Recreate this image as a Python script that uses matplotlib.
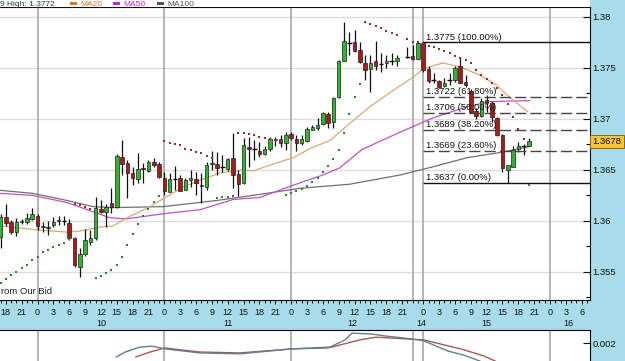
import matplotlib
matplotlib.use("Agg")
import matplotlib.pyplot as plt
import numpy as np
from matplotlib.patches import Rectangle
from matplotlib.ticker import FixedLocator, MultipleLocator

plt.rcParams['font.family'] = ['Liberation Sans', 'DejaVu Sans']

# hourly candles, trading-time axis: hour 0 = 10th 00:00, hour 73 = 15th 00:00
first_hour = -7
opens = [1.3584, 1.3604, 1.3599, 1.3589, 1.3599, 1.3599, 1.3602, 1.3605, 1.3594, 1.3594,
         1.3596, 1.3600, 1.3600, 1.3598, 1.3583, 1.3555, 1.3568, 1.3579, 1.3583, 1.3612,
         1.3609, 1.3618, 1.3614, 1.3663, 1.3657, 1.3647, 1.3641, 1.3652, 1.3649, 1.3658,
         1.3656, 1.3642, 1.3628, 1.3641, 1.3642, 1.3630, 1.3640, 1.3641, 1.3635, 1.3633,
         1.3656, 1.3656, 1.3653, 1.3651, 1.3662, 1.3646, 1.3637, 1.3672, 1.3671, 1.3669,
         1.3666, 1.3671, 1.3679, 1.3680, 1.3676, 1.3685, 1.3680, 1.3676, 1.3678, 1.3689,
         1.3691, 1.3695, 1.3705, 1.3697, 1.3722, 1.3757, 1.3774, 1.3775, 1.3768, 1.3755,
         1.3749, 1.3757, 1.3754, 1.3755, 1.3757, 1.3757, np.nan, 1.3761, 1.3762, 1.3759,
         1.3774, 1.3749, 1.3738, 1.3737, 1.3732, 1.3738, 1.3738, 1.3752, 1.3736, 1.3727,
         1.3708, 1.3703, 1.3719, 1.3716, 1.3701, 1.3684, 1.3650, 1.3653, 1.3671, 1.3673,
         1.3673]
highs = [1.3607, 1.3617, 1.3601, 1.3603, 1.3602, 1.3608, 1.3613, 1.3607, 1.3599, 1.3600,
         1.3604, 1.3605, 1.3605, 1.3602, 1.3584, 1.3573, 1.3592, 1.3591, 1.3623, 1.3620,
         1.3617, 1.3632, 1.3666, 1.3679, 1.3660, 1.3653, 1.3667, 1.3657, 1.3660, 1.3662,
         1.3658, 1.3648, 1.3647, 1.3654, 1.3645, 1.3642, 1.3650, 1.3648, 1.3647, 1.3658,
         1.3669, 1.3668, 1.3665, 1.3662, 1.3686, 1.3650, 1.3681, 1.3682, 1.3679, 1.3677,
         1.3673, 1.3682, 1.3682, 1.3684, 1.3687, 1.3687, 1.3684, 1.3684, 1.3692, 1.3694,
         1.3701, 1.3707, 1.3707, 1.3722, 1.3758, 1.3795, 1.3785, 1.3787, 1.3775, 1.3763,
         1.3763, 1.3776, 1.3765, 1.3763, 1.3765, 1.3763, np.nan, 1.3771, 1.3773, 1.3775,
         1.3776, 1.3752, 1.3745, 1.3738, 1.3740, 1.3745, 1.3752, 1.3761, 1.3743, 1.3729,
         1.3711, 1.3721, 1.3723, 1.3718, 1.3702, 1.3685, 1.3655, 1.3673, 1.3677, 1.3675,
         1.3681]
lows = [1.3573, 1.3595, 1.3587, 1.3585, 1.3597, 1.3597, 1.3601, 1.3591, 1.3589, 1.3586,
        1.3594, 1.3596, 1.3596, 1.3581, 1.3555, 1.3545, 1.3566, 1.3576, 1.3581, 1.3608,
        1.3594, 1.3608, 1.3613, 1.3645, 1.3622, 1.3635, 1.3637, 1.3637, 1.3648, 1.3653,
        1.3642, 1.3625, 1.3628, 1.3630, 1.3629, 1.3630, 1.3633, 1.3625, 1.3618, 1.3630,
        1.3650, 1.3645, 1.3648, 1.3649, 1.3632, 1.3624, 1.3636, 1.3653, 1.3660, 1.3663,
        1.3665, 1.3669, 1.3673, 1.3672, 1.3670, 1.3679, 1.3669, 1.3674, 1.3677, 1.3689,
        1.3689, 1.3694, 1.3691, 1.3691, 1.3721, 1.3757, 1.3763, 1.3766, 1.3755, 1.3738,
        1.3726, 1.3748, 1.3746, 1.3750, 1.3753, 1.3752, np.nan, 1.3760, 1.3758, 1.3759,
        1.3746, 1.3735, 1.3735, 1.3730, 1.3731, 1.3733, 1.3736, 1.3735, 1.3731, 1.3706,
        1.3700, 1.3702, 1.3707, 1.3697, 1.3683, 1.3648, 1.3637, 1.3653, 1.3668, 1.3665,
        1.3673]
closes = [1.3604, 1.3598, 1.3589, 1.3599, 1.3600, 1.3603, 1.3607, 1.3595, 1.3595, 1.3593,
          1.3599, 1.3601, 1.3600, 1.3583, 1.3557, 1.3568, 1.3581, 1.3583, 1.3613, 1.3609,
          1.3614, 1.3614, 1.3664, 1.3656, 1.3647, 1.3642, 1.3651, 1.3651, 1.3658, 1.3655,
          1.3643, 1.3629, 1.3641, 1.3641, 1.3629, 1.3640, 1.3642, 1.3637, 1.3634, 1.3655,
          1.3657, 1.3652, 1.3653, 1.3661, 1.3645, 1.3636, 1.3674, 1.3671, 1.3671, 1.3666,
          1.3671, 1.3680, 1.3680, 1.3676, 1.3684, 1.3681, 1.3676, 1.3680, 1.3690, 1.3692,
          1.3694, 1.3706, 1.3696, 1.3721, 1.3757, 1.3776, 1.3774, 1.3767, 1.3756, 1.3748,
          1.3755, 1.3752, 1.3754, 1.3757, 1.3757, 1.3760, np.nan, 1.3761, 1.3759, 1.3774,
          1.3748, 1.3737, 1.3738, 1.3731, 1.3735, 1.3738, 1.3750, 1.3735, 1.3733, 1.3707,
          1.3703, 1.3718, 1.3716, 1.3702, 1.3684, 1.3652, 1.3655, 1.3670, 1.3673, 1.3673,
          1.3678]

# parabolic SAR, one dot per candle, g = below (up), r = above (down)
sar = [1.3539, 1.3543, 1.3547, 1.3550, 1.3554, 1.3557, 1.3562, 1.3565, 1.3569, 1.3571,
       1.3574, 1.3576, 1.3578, 1.3582, 1.3617, 1.3616, 1.3614, 1.3612, 1.3544, 1.3546,
       1.3549, 1.3552, 1.3557, 1.3565, 1.3576, 1.3587, 1.3597, 1.3605, 1.3612, 1.3619,
       1.3624, 1.3678, 1.3676, 1.3675, 1.3674, 1.3671, 1.3670, 1.3668, 1.3667, 1.3664,
       1.3662, 1.3622, 1.3623, 1.3623, 1.3624, 1.3686, 1.3686, 1.3685, 1.3684, 1.3682,
       1.3681, 1.3680, 1.3679, 1.3678, 1.3625, 1.3627, 1.3629, 1.3631, 1.3634, 1.3638,
       1.3642, 1.3648, 1.3654, 1.3661, 1.3670, 1.3686, 1.3705, 1.3722, 1.3734, 1.3795,
       1.3793, 1.3791, 1.3789, 1.3786, 1.3784, 1.3782, np.nan, 1.3778, 1.3775, 1.3775,
       1.3774, 1.3772, 1.3771, 1.3769, 1.3767, 1.3765, 1.3762, 1.3760, 1.3758, 1.3755,
       1.3748, 1.3743, 1.3739, 1.3735, 1.3730, 1.3723, 1.3715, 1.3702, 1.3690, 1.3680,
       1.3635]
sar_side = "g" * 14 + "r" * 4 + "g" * 13 + "r" * 10 + "g" * 4 + "r" * 9 + "g" * 15 + "r" * 31 + "g"

# moving averages (hour, price)
ma20_t = [-7.1, -3.3, 0.5, 5.6, 8.0, 11.8, 14.3, 16.9, 21.3, 24.5, 27.5, 30.8, 34.5, 38.9, 40.8,
          45.3, 48.4, 51.6, 55.4, 57.6, 62.9, 67.3, 71.1, 73.0, 76.7, 80.0, 83.7, 86.9, 89.4, 92.8]
ma20 = [1.3595, 1.3593, 1.3591, 1.3589, 1.3590, 1.3594, 1.3595, 1.3603, 1.3614, 1.3624, 1.3633,
        1.3640, 1.3647, 1.3650, 1.3649, 1.3657, 1.3662, 1.3671, 1.3679, 1.3689, 1.3712, 1.3728,
        1.3741, 1.3749, 1.3755, 1.3751, 1.3743, 1.3733, 1.3721, 1.3707]
ma50_t = [-7.1, -0.9, 5.6, 9.4, 13.7, 16.9, 23.8, 30.8, 37.0, 42.1, 48.4, 54.0, 57.2, 61.4,
          68.6, 74.8, 81.3, 85.6, 93.2]
ma50 = [1.3627, 1.3625, 1.3618, 1.3611, 1.3603, 1.3602, 1.3607, 1.3611, 1.3621, 1.3623, 1.3635,
        1.3645, 1.3652, 1.3670, 1.3687, 1.3701, 1.3712, 1.3717, 1.3718]
ma100_t = [-7.1, -0.9, 5.6, 10.5, 14.3, 23.8, 33.9, 43.4, 49.7, 59.1, 68.6, 74.8, 81.3, 87.5, 93.2]
ma100 = [1.3630, 1.3627, 1.3620, 1.3614, 1.3613, 1.3614, 1.3620, 1.3627, 1.3632, 1.3636, 1.3645,
         1.3653, 1.3662, 1.3667, 1.3673]

# fibonacci retracement
fib_levels = [1.3775, 1.3722, 1.3706, 1.3689, 1.3669, 1.3637]
fib_pcts = ["100.00%", "61.80%", "50.00%", "38.20%", "23.60%", "0.00%"]
fib_start = 73

last_price = 1.3678

# lower indicator panel (two lines)
ind_blue_t = [14.9, 16.6, 19.4, 21.7, 24.1, 30.7, 38.3, 48.2, 55.0, 58.2, 59.5, 63.3, 65.6, 70.9,
              73.1, 77.7, 80.7, 83.7]
ind_blue = [0.00170, 0.00181, 0.00192, 0.00194, 0.00188, 0.00179, 0.00177, 0.00188, 0.00190,
            0.00208, 0.00223, 0.00221, 0.00217, 0.00210, 0.00206, 0.00183, 0.00174, 0.00161]
ind_red_t = [18.6, 21.3, 24.1, 30.7, 38.3, 48.2, 55.7, 61.0, 64.1, 70.1, 73.1, 80.7, 84.5, 86.6]
ind_red = [0.00170, 0.00181, 0.00190, 0.00181, 0.00179, 0.00188, 0.00192, 0.00208, 0.00214,
           0.00210, 0.00208, 0.00186, 0.00172, 0.00161]

day_lines = [0, 24, 48, 71, 73, 97]
hour_ticks = [-6, -3] + list(range(0, 70, 3)) + list(range(73, 104, 3))
hour_names = ["18", "21"] + ["0", "3", "6", "9", "12", "15", "18", "21"] * 3 + \
             ["0", "3", "6", "9", "12", "15", "18", "21"] + ["0", "3", "6"]
day_names = ["10", "11", "12", "14", "15", "16"]
day_pos = [12, 36, 59.5, 72.6, 85, 100.4]

BLUE = "#a9dcea"
W, H = 625, 361
fig = plt.figure(figsize=(W / 100, H / 100), dpi=100, facecolor=BLUE)
fig.patches.append(Rectangle((0, 1 - 7 / H), 590 / W, 7 / H, transform=fig.transFigure,
                             facecolor="white", edgecolor="none", zorder=0))

ax = fig.add_axes([0, 61 / H, 590 / W, 293 / H])
ax.set_facecolor("white")
xmin, xmax = -7.1, 104.56
ax.set_xlim(xmin, xmax)
ax.set_ylim(1.35224, 1.38098)

for lv in np.arange(1.355, 1.3801, 0.005):
    ax.axhline(lv, color="#dcdcdc", lw=1, zorder=0)
for d in day_lines:
    ax.axvline(d, color="#a8a8a8", lw=1.2, zorder=0.5)

t = first_hour + np.arange(len(opens))
o = np.array(opens); hi = np.array(highs); lo = np.array(lows); c = np.array(closes)
ok = ~np.isnan(o)
ax.vlines(t[ok], lo[ok], hi[ok], color="#111111", lw=0.9, zorder=2)
bw = 0.66
for ti, oo, cc in zip(t[ok], o[ok], c[ok]):
    if abs(cc - oo) < 0.00008:
        ax.hlines(oo, ti - 0.45, ti + 0.45, color="#111111", lw=1, zorder=3)
    else:
        col = "#2fb52f" if cc > oo else "#b01818"
        ax.bar(ti, abs(cc - oo), bottom=min(oo, cc), width=bw, color=col,
               edgecolor="#202020", lw=0.5, zorder=3)

ax.plot(ma100_t, ma100, color="#707070", lw=0.9, zorder=1.5)
ax.plot(ma50_t, ma50, color="#c050c8", lw=0.9, zorder=1.5)
ax.plot(ma20_t, ma20, color="#d9a878", lw=0.9, zorder=1.5)

s = np.array(sar)
side = np.array(list(sar_side))
ax.scatter(t[side == "g"], s[side == "g"], s=3, marker="s", color="#1e8a2a", lw=0, zorder=4)
ax.scatter(t[side == "r"], s[side == "r"], s=3, marker="s", color="#a02828", lw=0, zorder=4)

for lv, pct in zip(fib_levels, fib_pcts):
    if pct in ("100.00%", "0.00%"):
        ax.hlines(lv, fib_start, xmax, color="#111111", lw=1, zorder=2.5)
    else:
        ax.hlines(lv, fib_start, xmax, color="#444444", lw=1, linestyles=(0, (8, 3)), zorder=2.5)
    ax.text(fib_start + 0.5, lv + 0.00008, f"{lv:.4f} ({pct})", fontsize=6.8, color="#111111",
            va="bottom", ha="left", zorder=5)

ax.text(0.002, 0.015, "rom Our Bid", transform=ax.transAxes, fontsize=6.8, color="#222222",
        ha="left", va="bottom")

for sp in ax.spines.values():
    sp.set_color("#111111")
ax.spines["left"].set_visible(False)
ax.yaxis.tick_right()
ax.yaxis.set_major_locator(FixedLocator([1.355, 1.36, 1.365, 1.37, 1.375, 1.38]))
ax.yaxis.set_minor_locator(MultipleLocator(0.0025))
ax.set_yticklabels(["1.355", "1.36", "1.365", "1.37", "1.375", "1.38"])
ax.tick_params(axis="y", which="major", direction="in", length=5, width=0.8, pad=2,
               labelsize=6.8, colors="#111111")
ax.tick_params(axis="y", which="minor", direction="in", length=3, width=0.8)

ax.set_xticks(hour_ticks)
ax.set_xticklabels(hour_names)
ax.xaxis.set_minor_locator(MultipleLocator(1))
ax.tick_params(axis="x", which="major", direction="out", length=3, width=0.7, pad=3,
               labelsize=6.5, colors="#111111")
ax.tick_params(axis="x", which="minor", direction="out", length=2, width=0.6)
for dn, dp in zip(day_names, day_pos):
    ax.text(dp, -0.079, dn, transform=ax.get_xaxis_transform(), fontsize=6.5,
            ha="center", va="center", color="#111111")

ax.text(1.004, (last_price - 1.35224) / (1.38098 - 1.35224), f"{last_price:.4f}",
        transform=ax.transAxes, fontsize=6.8, ha="left", va="center", color="#111111",
        bbox=dict(boxstyle="square,pad=0.25", facecolor="#f7c434", edgecolor="#8a6a10", lw=0.7),
        zorder=6)

# header legend in the thin strip above the chart
yh = 1 - 6.3 / H
fig.text(0.0, yh, "9 High: 1.3772", fontsize=6, color="#2a3a50", va="baseline", ha="left")
for x0, lab, col in [(70, "MA20", "#e07820"), (113, "MA50", "#cc22cc"), (157, "MA100", "#555555")]:
    fig.patches.append(Rectangle((x0 / W, 1 - 4.5 / H), 7 / W, 2.5 / H, transform=fig.transFigure,
                                 facecolor=col, edgecolor="none"))
    fig.text((x0 + 10) / W, yh, lab, fontsize=6, color=col, va="baseline", ha="left")

# lower indicator panel
ax2 = fig.add_axes([0, 0, 590 / W, 31 / H])
ax2.set_facecolor("white")
ax2.set_xlim(xmin, xmax)
ax2.set_ylim(0.00161, 0.0023)
for d in day_lines:
    ax2.axvline(d, color="#a8a8a8", lw=1.2, zorder=0)
ax2.plot(ind_red_t, ind_red, color="#a85a50", lw=1)
ax2.plot(ind_blue_t, ind_blue, color="#5f7f98", lw=1)
ax2.set_xticks([])
ax2.yaxis.tick_right()
ax2.set_yticks([0.002])
ax2.set_yticklabels(["0.002"])
ax2.tick_params(axis="y", direction="in", length=5, pad=2, labelsize=6.8, colors="#111111")
ax2.spines["left"].set_visible(False)
ax2.spines["bottom"].set_visible(False)

fig.savefig("out.png", dpi=100, facecolor=BLUE)
